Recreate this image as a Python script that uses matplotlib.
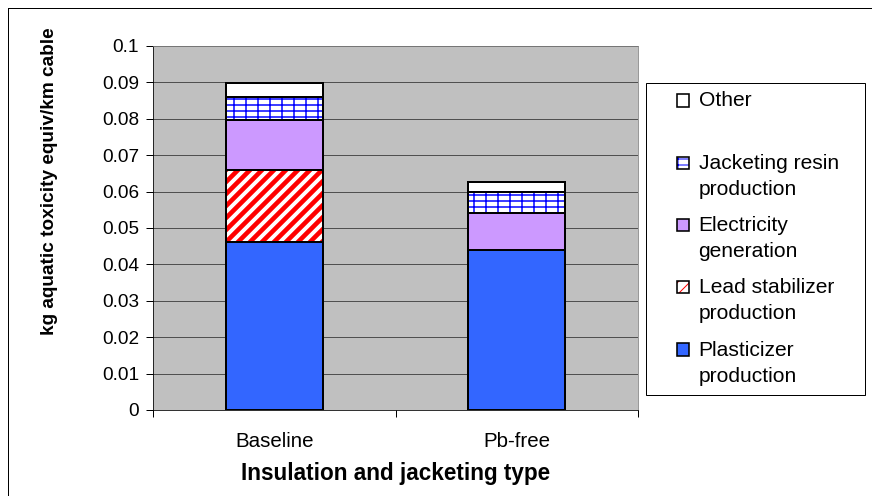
import matplotlib
matplotlib.use("Agg")
import matplotlib.pyplot as plt
from matplotlib.patches import Rectangle
from matplotlib.legend_handler import HandlerPatch, HandlerTuple
from matplotlib.lines import Line2D

# values
categories = ["Baseline", "Pb-free"]
plasticizer = [0.0461, 0.0439]
lead_stab = [0.0199, 0.0]
electricity = [0.0138, 0.0102]
jacket_resin = [0.0061, 0.0058]
other = [0.0039, 0.0028]

series = [
    ("Plasticizer\nproduction", plasticizer),
    ("Lead stabilizer\nproduction", lead_stab),
    ("Electricity\ngeneration", electricity),
    ("Jacketing resin\nproduction", jacket_resin),
    ("Other\n ", other),
]
# face, hatch, hatch colour, hatch width
styles = [
    ("#3366FF", None, None, 1.0),
    ("white", "//", "#FF0000", 4.6),
    ("#CC99FF", None, None, 1.0),
    ("white", "--|", "#0000FF", 1.5),
    ("white", None, None, 1.0),
]

plt.rcParams["font.family"] = ["Liberation Sans", "DejaVu Sans"]

# dpi 72 so that one point is one pixel (and hatch cells come out 72 px)
DPI = 72
fig = plt.figure(figsize=(872 / DPI, 496 / DPI), dpi=DPI)
ax = fig.add_axes([153 / 872, 1 - 410 / 496, 485 / 872, 364 / 496])
ax.set_facecolor("#C0C0C0")

x = list(range(len(categories)))
w = 0.4
bottom = [0.0, 0.0]
handles = []
for (name, vals), (fc, hatch, hc, hlw) in zip(series, styles):
    plt.rcParams["hatch.linewidth"] = hlw
    if hatch:
        b1 = ax.bar(x, vals, w, bottom=bottom, color=fc, edgecolor=hc,
                    hatch=hatch, linewidth=0, zorder=2)
        for p in b1:
            if hasattr(p, "set_hatch_linewidth"):
                p.set_hatch_linewidth(hlw)
        h1 = Rectangle((0, 0), 1, 1, facecolor=fc, edgecolor=hc, hatch=hatch, linewidth=0)
        if hasattr(h1, "set_hatch_linewidth"):
            h1.set_hatch_linewidth(min(hlw, 3.0))
    else:
        ax.bar(x, vals, w, bottom=bottom, color=fc, linewidth=0, zorder=2)
        h1 = Rectangle((0, 0), 1, 1, facecolor=fc, linewidth=0)
    nz = [v > 0 for v in vals]
    ax.bar([xi for xi, k in zip(x, nz) if k], [v for v, k in zip(vals, nz) if k], w,
           bottom=[b for b, k in zip(bottom, nz) if k], fill=False,
           edgecolor="black", linewidth=2.0, zorder=3)
    h2 = Rectangle((0, 0), 1, 1, fill=False, edgecolor="black", linewidth=1.6)
    handles.append(((h1, h2), name))
    bottom = [b + v for b, v in zip(bottom, vals)]


class TopHandler(HandlerPatch):
    # put the little square next to the first line of a two-line label
    def create_artists(self, legend, orig_handle, xdescent, ydescent, width,
                       height, fontsize, trans):
        s = 0.58 * fontsize
        p = Rectangle((xdescent + width - s, ydescent + height / 2 - s / 2 + 0.72 * fontsize),
                      s, s)
        self.update_prop(p, orig_handle, legend)
        p.set_transform(trans)
        return [p]


ax.set_xlim(-0.5, 1.5)
ax.set_ylim(0, 0.1)
ax.set_yticks([i / 100 for i in range(11)])
ax.set_yticklabels(["0"] + ["%g" % (i / 100) for i in range(1, 11)])
ax.yaxis.grid(True, color="#505050", linewidth=1.0, zorder=1)
ax.set_axisbelow(True)
ax.set_xticks(x)
ax.set_xticklabels(categories)
ax.set_xticks([-0.5, 0.5, 1.5], minor=True)
ax.tick_params(axis="x", which="major", length=0, pad=22, labelsize=20.5)
ax.tick_params(axis="x", which="minor", length=7, width=1, direction="out")
ax.tick_params(axis="y", length=7, width=1, direction="out", pad=7, labelsize=19)
for s in ["top", "right"]:
    ax.spines[s].set_color("#808080")
for s in ["left", "bottom"]:
    ax.spines[s].set_color("black")

ax.set_xlabel("Insulation and jacketing type", fontsize=22.5, fontweight="bold", labelpad=11)
ax.set_ylabel("kg aquatic toxicity equiv/km cable", fontsize=19, fontweight="bold")
ax.yaxis.set_label_coords((58 - 153) / 485, (410 - 181) / 364)

rev = handles[::-1]
leg = fig.legend([h for h, _ in rev], [n for _, n in rev], loc="upper left",
                 bbox_to_anchor=(666 / 872, 1 - 81 / 496), frameon=False, fontsize=21,
                 handlelength=0.6, handleheight=0.6, handletextpad=0.45,
                 labelspacing=0.82, borderpad=0,
                 handler_map={tuple: HandlerTuple(ndivide=1), Rectangle: TopHandler()})
for t in leg.get_texts():
    t.set_linespacing(1.47)

fig.patches.append(Rectangle((646 / 872, 1 - 395 / 496), 219 / 872, 312 / 496,
                             transform=fig.transFigure, fill=False,
                             edgecolor="black", linewidth=1.0))
fig.lines.append(Line2D([7.5 / 872, 7.5 / 872], [0, 1 - 7.5 / 496], transform=fig.transFigure,
                        color="black", linewidth=1.0))
fig.lines.append(Line2D([7.5 / 872, 1], [1 - 7.5 / 496, 1 - 7.5 / 496], transform=fig.transFigure,
                        color="black", linewidth=1.0))

fig.savefig("out.png", dpi=DPI)
